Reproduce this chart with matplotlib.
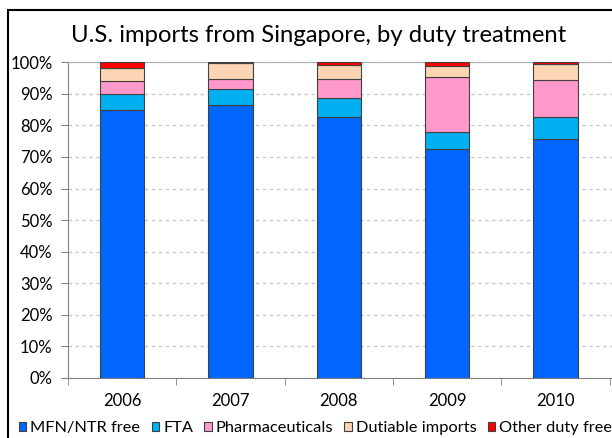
import numpy as np
import matplotlib.pyplot as plt
from matplotlib.patches import Rectangle, Patch
from matplotlib.ticker import FuncFormatter, MultipleLocator

# Anteile in Prozent
years = ["2006", "2007", "2008", "2009", "2010"]
mfn_ntr_free = [85.0, 86.6, 82.5, 72.6, 75.6]
fta = [4.9, 5.0, 6.3, 5.3, 7.1]
pharmaceuticals = [4.1, 3.2, 5.8, 17.3, 11.6]
dutiable = [4.3, 4.9, 4.4, 3.6, 5.1]
other_duty_free = [1.7, 0.3, 1.0, 1.2, 0.6]

labels = ["MFN/NTR free", "FTA", "Pharmaceuticals", "Dutiable imports", "Other duty free"]
colors = ["#0066FF", "#00B0F0", "#FF99CC", "#FCD5B4", "#FF0000"]
series = [mfn_ntr_free, fta, pharmaceuticals, dutiable, other_duty_free]

plt.rcParams["font.family"] = ["Lato", "DejaVu Sans"]

fig = plt.figure(figsize=(6.12, 4.38), dpi=100)
ax = fig.add_axes([0.111, 0.137, 0.889, 0.721])

x = np.arange(len(years))
bottom = np.zeros(len(years))
for vals, col in zip(series, colors):
    ax.bar(x, vals, bottom=bottom, width=0.41, color=col,
           edgecolor="#404040", linewidth=0.8, zorder=3)
    bottom += np.array(vals)

ax.set_xlim(-0.5, 4.52)
ax.set_ylim(0, 100)
ax.yaxis.set_major_locator(MultipleLocator(10))
ax.yaxis.set_major_formatter(FuncFormatter(lambda v, p: f"{v:.0f}%"))
ax.set_xticks(x)
ax.set_xticklabels(years)
ax.set_xticks(np.arange(-0.5, 4.6, 1), minor=True)
ax.tick_params(axis="x", which="major", length=0, pad=11, labelsize=12)
ax.tick_params(axis="x", which="minor", length=5, color="#808080", direction="out")
ax.tick_params(axis="y", length=5, color="#808080", pad=6, labelsize=12)

ax.grid(axis="y", linestyle=(0, (2.5, 2.5)), color="#C8C8C8", linewidth=1, zorder=0)
ax.spines["right"].set_visible(False)
ax.spines["top"].set_color("#B0B0B0")
ax.spines["left"].set_color("#808080")
ax.spines["bottom"].set_color("#808080")

fig.text(0.521, 0.918, "U.S. imports from Singapore, by duty treatment",
         ha="center", va="center", fontsize=17.2)

# äusserer Rahmen des Diagramms (rechts und unten abgeschnitten)
fig.patches.append(Rectangle((8 / 612, -0.2), 1.2, 1.2 - 10 / 438,
                             transform=fig.transFigure, fill=False,
                             edgecolor="black", linewidth=1.5))

handles = [Patch(facecolor=c, edgecolor="#404040", linewidth=0.8) for c in colors]
fig.legend(handles, labels, loc="center left", bbox_to_anchor=(19 / 612, 0.022),
           ncol=5, frameon=False, fontsize=11.8, handlelength=0.45,
           handleheight=0.45, handletextpad=0.25, columnspacing=0.68,
           borderaxespad=0, borderpad=0)

fig.savefig("out.png", dpi=100)
